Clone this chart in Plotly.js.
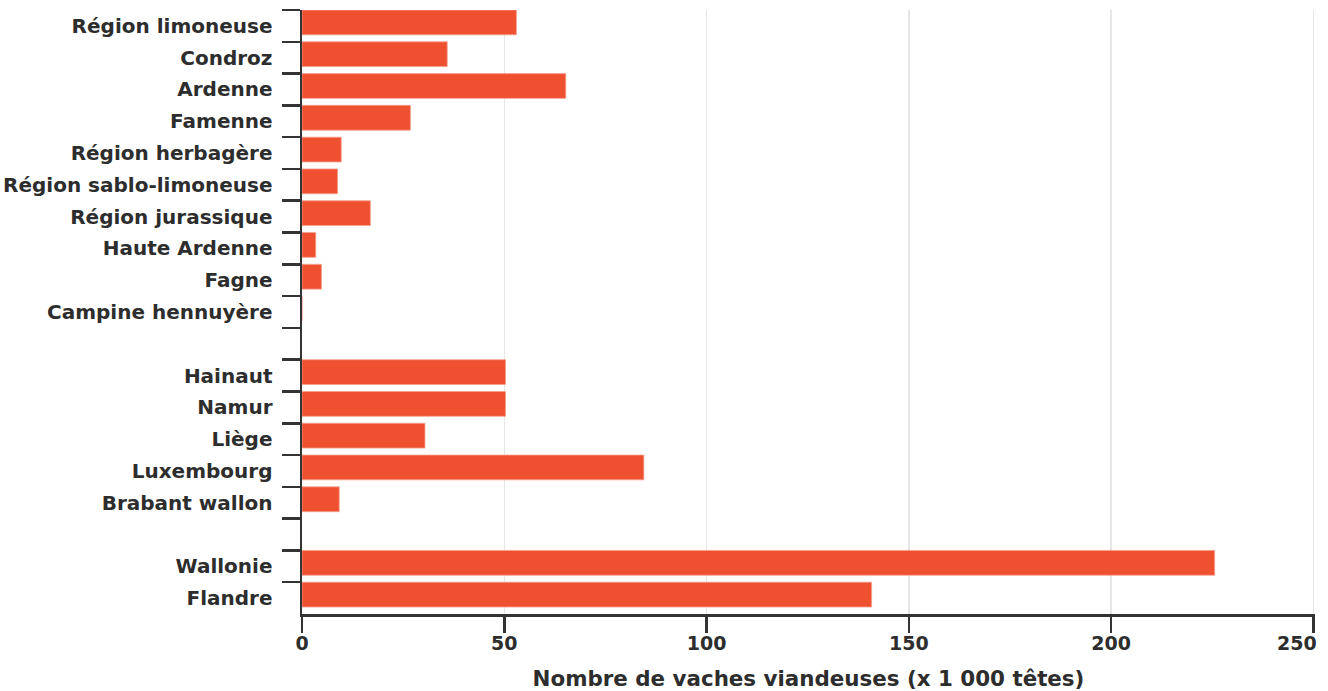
<!DOCTYPE html>
<html>
<head>
<meta charset="utf-8">
<script src="https://cdn.plot.ly/plotly-3.0.1.min.js"></script>
<style>
  html, body { margin: 0; padding: 0; background: #ffffff; }
  #chart { width: 1328px; height: 691px; }
</style>
</head>
<body>
<div id="chart"></div>
<script>
// Categories, top to bottom (blank strings are spacer rows)
const categories = [
  "Région limoneuse", "Condroz", "Ardenne", "Famenne", "Région herbagère",
  "Région sablo-limoneuse", "Région jurassique", "Haute Ardenne", "Fagne",
  "Campine hennuyère", " ",
  "Hainaut", "Namur", "Liège", "Luxembourg", "Brabant wallon", "  ",
  "Wallonie", "Flandre"
];
// Number of beef cows (x 1 000 head)
const values = [
  53.0, 35.9, 65.2, 26.8, 9.7,
  8.8, 16.9, 3.4, 4.8,
  0, null,
  50.3, 50.3, 30.4, 84.5, 9.2, null,
  225.6, 140.8
];
const xTicks = [0, 50, 100, 150, 200, 250];
const xTickLabels = ["0", "50", "100", "150", "200", "250\u00a0\u00a0\u00a0\u00a0\u00a0"];
const xTitle = "Nombre de vaches viandeuses (x 1 000 têtes)";

const textColor = "#2d2d2d";
const fontFamily = "DejaVu Sans, Verdana, sans-serif";

const trace = {
  type: "bar",
  orientation: "h",
  x: values,
  y: categories,
  offset: -0.5,
  width: 0.78,
  marker: { color: "#ee5030", line: { color: "#f6a08e", width: 0.8 } },
  hoverinfo: "x+y"
};

const layout = {
  width: 1328,
  height: 691,
  margin: { l: 302, r: 13, t: 10, b: 77 },
  paper_bgcolor: "#ffffff",
  plot_bgcolor: "#ffffff",
  showlegend: false,
  font: { family: fontFamily, color: textColor },
  xaxis: {
    range: [0, 250.4],
    tickvals: xTicks,
    ticktext: xTickLabels,
    ticks: "outside",
    ticklen: 16,
    tickwidth: 2.5,
    tickcolor: "#333333",
    ticklabelstandoff: -6,
    ticklabeloverflow: "allow",
    showline: true,
    linewidth: 3,
    linecolor: "#333333",
    showgrid: true,
    gridcolor: "#e6e6e6",
    gridwidth: 1.5,
    zeroline: false,
    tickfont: { family: fontFamily, size: 19, color: textColor, weight: "bold" },
    title: {
      text: xTitle,
      font: { family: fontFamily, size: 21.4, color: textColor, weight: "bold" },
      standoff: 19
    },
    fixedrange: true
  },
  yaxis: {
    type: "category",
    categoryorder: "array",
    categoryarray: categories,
    range: [categories.length - 0.5, -0.5],
    tickson: "boundaries",
    ticks: "outside",
    ticklen: 18,
    tickwidth: 2.5,
    tickcolor: "#333333",
    ticklabelstandoff: 23,
    showline: true,
    linewidth: 2.5,
    linecolor: "#333333",
    showgrid: false,
    zeroline: false,
    tickfont: { family: fontFamily, size: 20, color: textColor, weight: "bold" },
    fixedrange: true
  }
};

Plotly.newPlot("chart", [trace], layout, { displayModeBar: false, staticPlot: true });
</script>
</body>
</html>
